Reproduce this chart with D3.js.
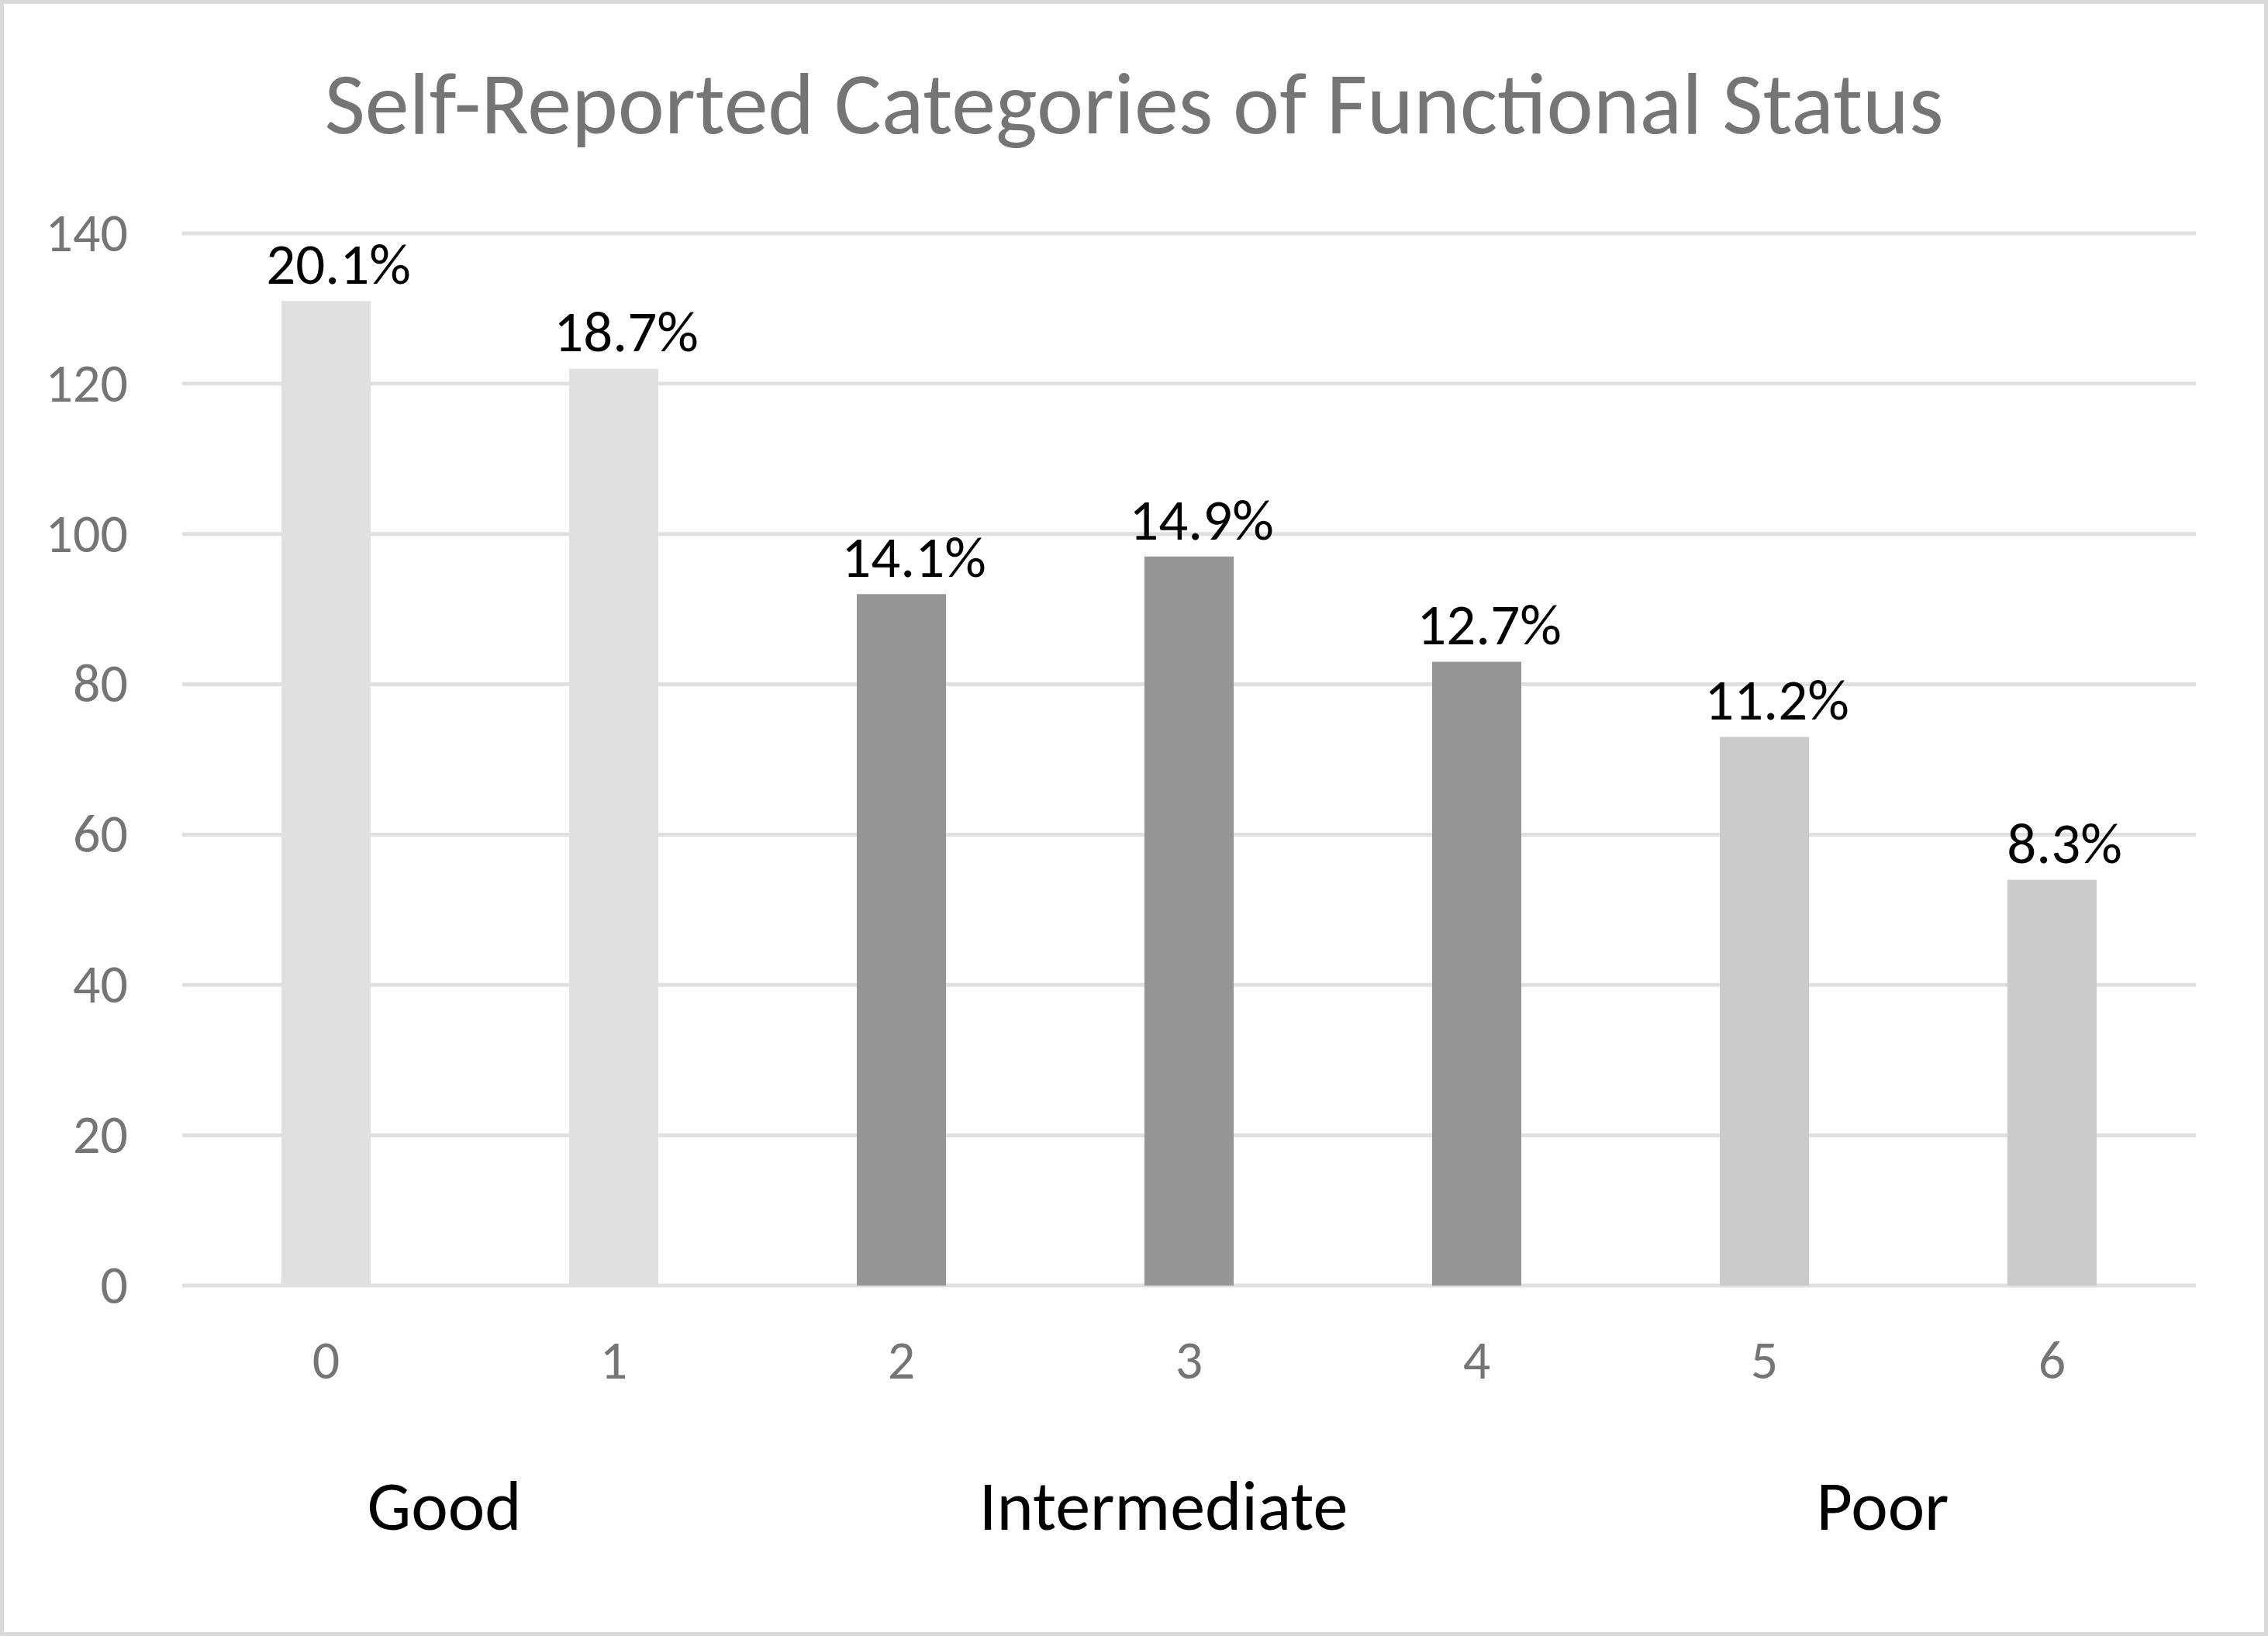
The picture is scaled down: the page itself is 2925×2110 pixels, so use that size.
<!DOCTYPE html>
<html>
<head>
<meta charset="utf-8">
<script src="https://cdn.jsdelivr.net/npm/d3@7"></script>
<style>
  body { margin: 0; background: #fff; }
  text { font-family: Carlito, Calibri, Lato, sans-serif; }
</style>
</head>
<body>
<div id="chart"></div>
<script>
var categories = ['0', '1', '2', '3', '4', '5', '6'];
var counts = [131, 122, 92, 97, 83, 73, 54];
var percentLabels = ['20.1%', '18.7%', '14.1%', '14.9%', '12.7%', '11.2%', '8.3%'];
var barColors = ['#e0e0e0', '#e0e0e0', '#959595', '#959595', '#959595', '#cbcbcb', '#cbcbcb'];
var yTicks = [0, 20, 40, 60, 80, 100, 120, 140];
var groupNames = ['Good', 'Intermediate', 'Poor'];
var groupFirst = ['0', '2', '5'];
var groupLast = ['1', '4', '6'];

var W = 2925, H = 2110;
var margin = { top: 301, right: 93, bottom: 452, left: 235 },
    width = W - margin.left - margin.right,
    height = H - margin.top - margin.bottom;

var svg = d3.select('#chart').append('svg')
    .attr('width', W)
    .attr('height', H);

svg.append('rect')
  .attr('x', 2.5).attr('y', 2.5)
  .attr('width', W - 5).attr('height', H - 5)
  .attr('fill', '#fff')
  .attr('stroke', '#d9d9d9')
  .attr('stroke-width', 5);

svg.append('text')
  .attr('x', W / 2)
  .attr('y', 172)
  .attr('text-anchor', 'middle')
  .attr('fill', '#757575')
  .style('font-size', '114px')
  .text('Self-Reported Categories of Functional Status');

var g = svg.append('g')
    .attr('transform', 'translate(' + margin.left + ',' + margin.top + ')');

var x = d3.scaleBand()
    .domain(categories)
    .range([0, width])
    .paddingInner(0.69)
    .paddingOuter(0.345);

var y = d3.scaleLinear()
    .domain([0, 140])
    .range([height, 0]);

// gridlines
g.append('g')
  .selectAll('line')
  .data(yTicks)
  .enter()
  .append('line')
  .attr('x1', 0)
  .attr('x2', width)
  .attr('y1', function (d) { return y(d); })
  .attr('y2', function (d) { return y(d); })
  .attr('stroke', '#e0e0e0')
  .attr('stroke-width', 5);

var yAxis = d3.axisLeft(y)
    .tickValues(yTicks)
    .tickSize(0)
    .tickPadding(70);

g.append('g')
  .call(yAxis)
  .call(function (a) { a.select('.domain').remove(); })
  .selectAll('text')
  .attr('fill', '#757575')
  .style('font-size', '70px')
  .style('font-family', 'Carlito, Calibri, Lato, sans-serif');

var xAxis = d3.axisBottom(x)
    .tickSize(0)
    .tickPadding(70);

g.append('g')
  .attr('transform', 'translate(0,' + height + ')')
  .call(xAxis)
  .call(function (a) { a.select('.domain').remove(); })
  .selectAll('text')
  .attr('fill', '#757575')
  .style('font-size', '70px')
  .style('font-family', 'Carlito, Calibri, Lato, sans-serif');

// bars
g.selectAll('.bar')
  .data(counts)
  .enter()
  .append('rect')
  .attr('class', 'bar')
  .attr('x', function (d, i) { return x(categories[i]); })
  .attr('y', function (d) { return y(d); })
  .attr('width', x.bandwidth())
  .attr('height', function (d) { return height - y(d); })
  .attr('fill', function (d, i) { return barColors[i]; });

// data labels (sit a touch right of bar centre, as in the original)
g.selectAll('.label')
  .data(counts)
  .enter()
  .append('text')
  .attr('class', 'label')
  .attr('x', function (d, i) { return x(categories[i]) + x.bandwidth() / 2; })
  .attr('y', function (d) { return y(d) - 22; })
  .attr('dx', 16)
  .attr('text-anchor', 'middle')
  .attr('fill', '#000')
  .style('font-size', '75px')
  .text(function (d, i) { return percentLabels[i]; });

// group labels under the axis, nudged a little left like the original text boxes
g.selectAll('.group')
  .data(groupNames)
  .enter()
  .append('text')
  .attr('class', 'group')
  .attr('x', function (d, i) {
    var a = x(groupFirst[i]) + x.bandwidth() / 2,
        b = x(groupLast[i]) + x.bandwidth() / 2;
    return (a + b) / 2 - 33;
  })
  .attr('y', height + 315)
  .attr('text-anchor', 'middle')
  .attr('fill', '#000')
  .style('font-size', '90px')
  .text(function (d) { return d; });
</script>
</body>
</html>
